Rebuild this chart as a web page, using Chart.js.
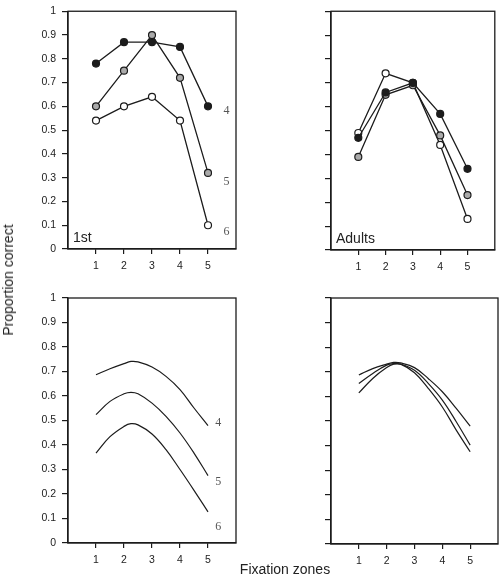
<!DOCTYPE html>
<html><head><meta charset="utf-8">
<script src="https://cdn.jsdelivr.net/npm/chart.js@4/dist/chart.umd.min.js"></script>
<style>
html,body{margin:0;padding:0;background:#fff;width:500px;height:581px;overflow:hidden;position:relative;}
canvas{position:absolute;left:0;top:0;}
.t{position:absolute;font-family:"Liberation Sans",Arial,sans-serif;font-size:14px;color:#222;white-space:nowrap;line-height:1;}
#ylab{left:8px;top:280px;transform:translate(-50%,-50%) rotate(-90deg);}
#xlab{left:285px;top:569px;transform:translate(-50%,-50%);}
</style></head><body>
<canvas id="c1" width="500" height="581"></canvas>
<canvas id="c2" width="500" height="581"></canvas>
<canvas id="c3" width="500" height="581"></canvas>
<canvas id="c4" width="500" height="581"></canvas>
<div class="t" id="ylab">Proportion correct</div>
<div class="t" id="xlab">Fixation zones</div>
<script>
// ---- data ----
const zones = [1, 2, 3, 4, 5];
const yTickLabels = ['0','0.1','0.2','0.3','0.4','0.5','0.6','0.7','0.8','0.9','1'];
const seriesNames = ['4', '5', '6'];

// observed, 1st grade
const first4 = [0.78, 0.87, 0.87, 0.85, 0.60];
const first5 = [0.60, 0.75, 0.90, 0.72, 0.32];
const first6 = [0.54, 0.60, 0.64, 0.54, 0.10];
// observed, adults
const adult4 = [0.47, 0.66, 0.70, 0.57, 0.34];
const adult5 = [0.39, 0.65, 0.69, 0.48, 0.23];
const adult6 = [0.49, 0.74, 0.70, 0.44, 0.13];

// model fits
const fitX = [1, 1.5, 2, 2.25, 2.5, 3, 3.5, 4, 4.5, 5];
const fitFirst4 = [0.687, 0.711, 0.732, 0.741, 0.739, 0.718, 0.680, 0.626, 0.551, 0.479];
const fitFirst5 = [0.524, 0.578, 0.609, 0.615, 0.609, 0.571, 0.517, 0.449, 0.367, 0.275];
const fitFirst6 = [0.367, 0.434, 0.476, 0.487, 0.482, 0.445, 0.381, 0.300, 0.215, 0.127];
const fitAdult4 = [0.687, 0.713, 0.731, 0.738, 0.736, 0.717, 0.672, 0.619, 0.551, 0.479];
const fitAdult5 = [0.652, 0.693, 0.727, 0.733, 0.731, 0.706, 0.652, 0.585, 0.497, 0.402];
const fitAdult6 = [0.614, 0.673, 0.717, 0.731, 0.731, 0.696, 0.632, 0.557, 0.463, 0.375];

// curve label anchors (data units)
const firstLabelX = 5.66, firstLabelY = [0.58, 0.283, 0.074];
const fitLabelX = 5.37, fitLabelY = [0.49, 0.251, 0.065];

// ---- drawing ----
const W = 500, H = 581, YW = 50, XH = 30;
const INK = '#1c1c1c';
const SANS = '"Liberation Sans", Arial, sans-serif';
const pts = (xs, ys) => xs.map((x, i) => ({x: x, y: ys[i]}));

function obs(ys, fill) {
  return {data: pts(zones, ys), borderColor: INK, borderWidth: 1.3, tension: 0,
    pointRadius: 3.5, pointBackgroundColor: fill, pointBorderColor: INK, pointBorderWidth: 1.2};
}
function fit(ys) {
  return {data: pts(fitX, ys), borderColor: INK, borderWidth: 1.2, tension: 0.4,
    pointRadius: 0, cubicInterpolationMode: 'default'};
}

function panel(id, area, datasets, showY, title, labels) {
  const deco = {
    id: 'deco',
    afterDraw(chart) {
      const ctx = chart.ctx, a = chart.chartArea;
      ctx.save();
      ctx.strokeStyle = INK; ctx.lineWidth = 1.3;
      ctx.strokeRect(a.left, a.top, a.right - a.left, a.bottom - a.top);
      ctx.fillStyle = '#222';
      ctx.font = '14px ' + SANS;
      ctx.textBaseline = 'alphabetic'; ctx.textAlign = 'left';
      ctx.fillText(title, a.left + 5, a.bottom - 7);
      if (labels) {
        ctx.font = '12px "Liberation Serif", "Times New Roman", serif';
        ctx.fillStyle = '#555';
        ctx.textAlign = 'center'; ctx.textBaseline = 'middle';
        labels.ys.forEach((v, i) => {
          ctx.fillText(seriesNames[i], chart.scales.x.getPixelForValue(labels.x),
                       chart.scales.y.getPixelForValue(v));
        });
      }
      ctx.restore();
    }
  };
  const tickFont = {family: SANS, size: 10.5, lineHeight: 1};
  new Chart(document.getElementById(id), {
    type: 'line',
    data: {datasets},
    options: {
      responsive: false, animation: false, devicePixelRatio: 1,
      layout: {padding: {left: area.l - YW, top: area.t, right: W - area.r, bottom: H - area.b - XH}},
      plugins: {legend: {display: false}, tooltip: {enabled: false}},
      scales: {
        x: {type: 'linear', min: 0, max: 6,
          afterBuildTicks: s => { s.ticks = s.ticks.filter(t => t.value >= 1 && t.value <= 5); },
          afterFit: s => { s.height = XH; },
          grid: {drawOnChartArea: false, drawTicks: true, tickLength: 5, color: INK, lineWidth: 1.2},
          border: {display: true, color: INK, width: 1.3},
          ticks: {stepSize: 1, padding: 7, color: '#222', font: tickFont, maxRotation: 0, autoSkip: false}},
        y: {type: 'linear', min: 0, max: 1,
          afterFit: s => { s.width = YW; },
          grid: {drawOnChartArea: false, drawTicks: true, tickLength: 6, color: INK, lineWidth: 1.2},
          border: {display: true, color: INK, width: 1.3},
          ticks: {stepSize: 0.1, padding: 6, color: '#222', font: tickFont, autoSkip: false,
            callback: (v, i) => showY ? yTickLabels[i] : ''}}
      }
    },
    plugins: [deco]
  });
}

panel('c1', {l: 68, t: 5, r: 236, b: 249},
  [obs(first4, INK), obs(first5, '#aaaaaa'), obs(first6, '#ffffff')], true, '1st',
  {x: firstLabelX, ys: firstLabelY});
panel('c2', {l: 331, t: 5, r: 498, b: 250},
  [obs(adult4, INK), obs(adult5, '#aaaaaa'), obs(adult6, '#ffffff')], false, 'Adults', null);
panel('c3', {l: 68, t: 298, r: 236, b: 543},
  [fit(fitFirst4), fit(fitFirst5), fit(fitFirst6)], true, '',
  {x: fitLabelX, ys: fitLabelY});
panel('c4', {l: 331, t: 298, r: 498, b: 544},
  [fit(fitAdult4), fit(fitAdult5), fit(fitAdult6)], false, '', null);
</script>
</body></html>
